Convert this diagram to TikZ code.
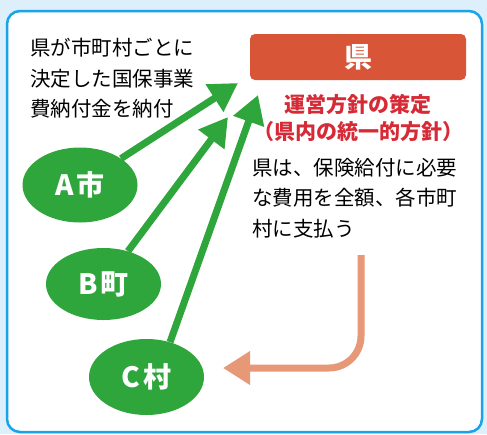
\documentclass[tikz,border=0pt]{standalone}
\usepackage{fontspec}
\setmainfont{Noto Sans CJK JP}
\usetikzlibrary{arrows.meta, shapes.geometric}
\definecolor{bgblue}{HTML}{DCEFFA}
\definecolor{frameblue}{HTML}{1AA3E8}
\definecolor{kenred}{HTML}{D85537}
\definecolor{policyred}{HTML}{D62A36}
\definecolor{towngreen}{HTML}{2EA63C}
\definecolor{paysalmon}{HTML}{E79877}

\begin{document}
\begin{tikzpicture}[x=1pt, y=-1pt, every node/.style={inner sep=0pt},
  town/.style={ellipse, fill=towngreen, minimum width=115pt, minimum height=75pt,
    text=white, font=\fontsize{28}{28}\selectfont\bfseries},
  levy/.style={line width=7pt, towngreen, -{Triangle[length=28pt, width=31pt]}},
  note/.style={align=left, font=\fontsize{20.5}{30.5}\selectfont}]
  % background and frame
  \fill[bgblue] (0,0) rectangle (487,434);
  \draw[frameblue, line width=2.5pt, fill=white, rounded corners=13pt] (7,11) rectangle (482,432);
  % prefecture
  \node[fill=kenred, rounded corners=5pt, minimum width=216pt, minimum height=46pt,
    text=white, font=\fontsize{28}{28}\selectfont\bfseries] (ken) at (358,57) {県};
  \node[align=center, text=policyred, font=\fontsize{21}{27}\selectfont\bfseries,
    anchor=north] (policy) at (358,94) {運営方針の策定\\（県内の統一的方針）};
  % notes
  \node[note, anchor=north west] (levynote) at (30,38) {県が市町村ごとに\\決定した国保事業\\費納付金を納付};
  \node[note, anchor=north west] (paynote) at (252,158) {県は、保険給付に必要\\な費用を全額、各市町\\村に支払う};
  % municipalities
  \node[town] (cityA) at (80,185) {A\kern3pt 市};
  \node[town, minimum height=72pt] (townB) at (103.5,284) {B\kern3pt 町};
  \node[town, minimum height=76pt] (villageC) at (146.5,377) {C\kern3pt 村};
  % arrow ends
  \coordinate (tipA) at (238,83);
  \coordinate (tipB) at (228,117);
  \coordinate (tipC) at (258,95);
  \coordinate (payfrom) at (361,255);
  \coordinate (payto) at (223,368);
  % contributions
  \draw[levy] (cityA) -- (tipA);
  \draw[levy] (townB) -- (tipB);
  \draw[levy] (villageC.56) -- (tipC);
  % payment
  \draw[line width=7pt, paysalmon, rounded corners=32pt, -{Triangle[length=27pt, width=32pt]}]
    (payfrom) |- (payto);
\end{tikzpicture}
\end{document}
